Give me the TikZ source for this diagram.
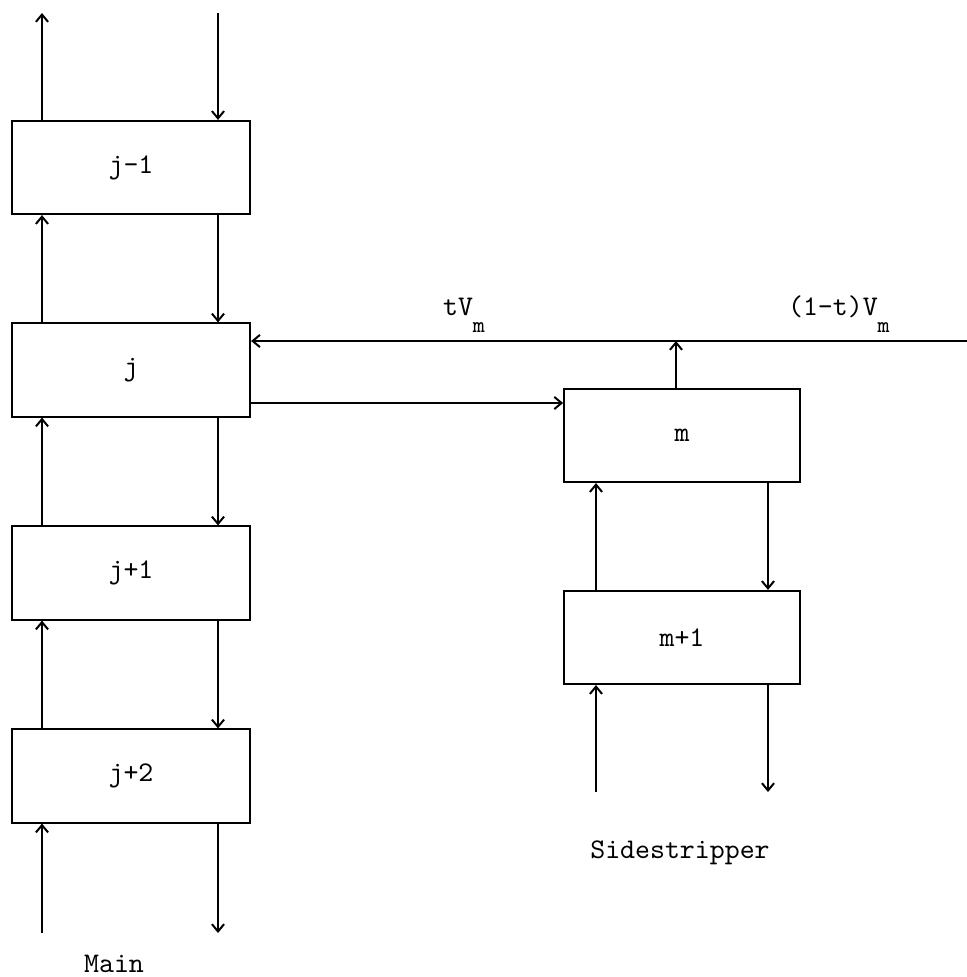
\documentclass[tikz,border=0pt]{standalone}
\usepackage{tikz}
\usetikzlibrary{arrows.meta}

\begin{document}
\begin{tikzpicture}[
    x=0.01235cm, y=-0.01235cm,
    >={Straight Barb[length=0.9mm, width=1.5mm]},
    font=\ttfamily,
    tray/.style={
        draw,
        line width=0.7pt,
        minimum width=29.4mm,
        minimum height=11.5mm,
        inner sep=0pt
    },
    flow/.style={
        ->,
        line width=0.7pt
    }
]

    \useasboundingbox (0,0) rectangle (967,977);

    \node[tray] (jm1) at (131,167.5) {j-1};
    \node[tray] (j)   at (131,370)   {j};
    \node[tray] (jp1) at (131,573)   {j+1};
    \node[tray] (jp2) at (131,776)   {j+2};

    \node[tray, minimum width=29.1mm] (m)   at (682,435.5) {m};
    \node[tray, minimum width=29.1mm] (mp1) at (682,637.5) {m+1};

    \coordinate (lx) at (42,0);
    \coordinate (rx) at (218,0);
    \coordinate (slx) at (596,0);
    \coordinate (srx) at (768,0);

    \coordinate (topout) at (42,13);
    \coordinate (topin)  at (218,13);
    \coordinate (mainin)  at (42,933);
    \coordinate (mainout) at (218,933);
    \coordinate (sidein)  at (596,792);
    \coordinate (sideout) at (768,792);

    \coordinate (vend) at (967,341);
    \coordinate (tee)  at (676,341);
    \coordinate (liq)  at (0,403);

    \draw[flow] (jm1.north -| topout) -- (topout);
    \draw[flow] (topin) -- (jm1.north -| topin);

    \draw[flow] (j.north -| lx) -- (jm1.south -| lx);
    \draw[flow] (jm1.south -| rx) -- (j.north -| rx);

    \draw[flow] (jp1.north -| lx) -- (j.south -| lx);
    \draw[flow] (j.south -| rx) -- (jp1.north -| rx);

    \draw[flow] (jp2.north -| lx) -- (jp1.south -| lx);
    \draw[flow] (jp1.south -| rx) -- (jp2.north -| rx);

    \draw[flow] (mainin) -- (jp2.south -| mainin);
    \draw[flow] (jp2.south -| mainout) -- (mainout);

    \draw[flow] (vend) -- (j.east |- vend);
    \draw[flow] (m.north -| tee) -- (tee);
    \draw[flow] (j.east |- liq) -- (m.west |- liq);

    \draw[flow] (mp1.north -| slx) -- (m.south -| slx);
    \draw[flow] (m.south -| srx) -- (mp1.north -| srx);

    \draw[flow] (sidein) -- (mp1.south -| sidein);
    \draw[flow] (mp1.south -| sideout) -- (sideout);

    \node[anchor=base west] (tvlab) at (433,315)
        {tV\raisebox{-6pt}{\footnotesize m}};
    \node[anchor=base west] (restlab) at (778,315)
        {(1-t)V\raisebox{-6pt}{\footnotesize m}};

    \node[anchor=base] (mainlab) at (114,972) {Main};
    \node[anchor=base] (sidelab) at (680,858) {Sidestripper};

\end{tikzpicture}
\end{document}
